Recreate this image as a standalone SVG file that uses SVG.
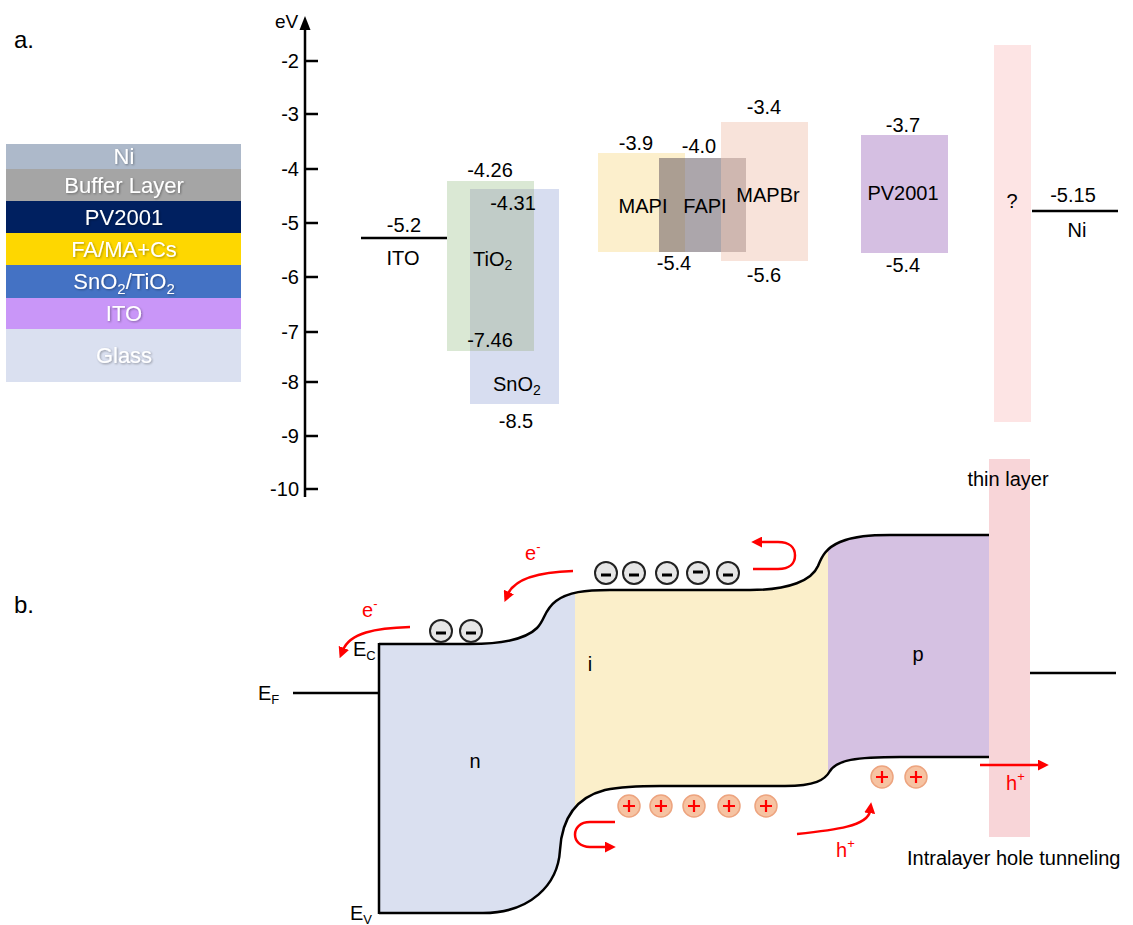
<svg xmlns="http://www.w3.org/2000/svg" width="1133" height="925" viewBox="0 0 1133 925">
<style>
text{font-family:"Liberation Sans",Arial,sans-serif;fill:#000}
.t{font-size:20px;text-anchor:middle}
.tk{font-size:20px;text-anchor:end}
.st{font-size:22px;text-anchor:middle;fill:#fff}
.red{fill:#ff0000;font-size:20px}
.ax{stroke:#000;stroke-width:2.5;fill:none}
.band{stroke:#000;stroke-width:2.5;fill:none}
.ra{stroke:#ff0000;stroke-width:2.5;fill:none;marker-end:url(#ah)}
.mc{fill:#e6e6e6;stroke:#222;stroke-width:2}
.pc{fill:#f6c3a2;stroke:#eda47f;stroke-width:1.5}
.pl{stroke:#ff0000;stroke-width:2.2}
.mi{stroke:#000;stroke-width:3}
</style>
<defs>
<marker id="ah" viewBox="0 0 10 10" refX="2" refY="5" markerWidth="11" markerHeight="11" markerUnits="userSpaceOnUse" orient="auto">
<path d="M0,0 L10,5 L0,10 z" fill="#ff0000"/>
</marker>
<filter id="sh" x="-10%" y="-20%" width="130%" height="150%">
<feDropShadow dx="1" dy="1" stdDeviation="0.8" flood-color="#000" flood-opacity="0.35"/>
</filter>
<clipPath id="bandclip">
<path d="M379,644 H470 C500,644 525,640 537,628 C545,620 544,610 556,601 C568,592 585,590 610,590 H750 C790,590 812,580 818,566 C822,556 826,548 840,542 C855,536 870,535 890,535 H989 L989,757 H900 C855,757 837,760 830,771 C825,780 815,786 785,786 H660 C640,786 620,787 605,790 C578,797 562,815 560,850 C558,885 530,913 483,913 H379 Z"/>
</clipPath>
</defs>
<rect width="1133" height="925" fill="#fff"/>

<text x="14" y="48" style="font-size:24px">a.</text>
<text x="14" y="613" style="font-size:24px">b.</text>

<!-- layer stack -->
<g id="stack">
<rect x="6" y="144" width="235" height="25" fill="#adb9ca"/>
<rect x="6" y="169" width="235" height="32" fill="#a5a5a5"/>
<rect x="6" y="201" width="235" height="32" fill="#002060"/>
<rect x="6" y="233" width="235" height="32" fill="#fed700"/>
<rect x="6" y="265" width="235" height="33" fill="#4472c4"/>
<rect x="6" y="298" width="235" height="31" fill="#c996f8"/>
<rect x="6" y="329" width="235" height="53" fill="#dae0f0"/>
<g filter="url(#sh)">
<text class="st" x="124" y="164">Ni</text>
<text class="st" x="124" y="193">Buffer Layer</text>
<text class="st" x="124" y="225">PV2001</text>
<text class="st" x="124" y="257">FA/MA+Cs</text>
<text class="st" x="124" y="289">SnO<tspan style="font-size:15px" dy="5">2</tspan><tspan dy="-5">/TiO</tspan><tspan style="font-size:15px" dy="5">2</tspan></text>
<text class="st" x="124" y="321">ITO</text>
<text class="st" x="124" y="363">Glass</text>
</g>
</g>

<!-- axis -->
<g id="axis">
<line class="ax" x1="305" y1="28" x2="305" y2="497"/>
<path d="M305,16 L299.5,30 L310.5,30 z" fill="#000"/>
<text x="275" y="28" style="font-size:19px">eV</text>
<g class="ax">
<line x1="305" y1="61" x2="318" y2="61"/>
<line x1="305" y1="114" x2="318" y2="114"/>
<line x1="305" y1="169" x2="318" y2="169"/>
<line x1="305" y1="223" x2="318" y2="223"/>
<line x1="305" y1="277" x2="318" y2="277"/>
<line x1="305" y1="332" x2="318" y2="332"/>
<line x1="305" y1="382" x2="318" y2="382"/>
<line x1="305" y1="436" x2="318" y2="436"/>
<line x1="305" y1="489" x2="318" y2="489"/>
</g>
<text class="tk" x="299" y="68">-2</text>
<text class="tk" x="299" y="121">-3</text>
<text class="tk" x="299" y="176">-4</text>
<text class="tk" x="299" y="230">-5</text>
<text class="tk" x="299" y="284">-6</text>
<text class="tk" x="299" y="339">-7</text>
<text class="tk" x="299" y="389">-8</text>
<text class="tk" x="299" y="443">-9</text>
<text class="tk" x="299" y="496">-10</text>
</g>

<g id="ito">
<line x1="361" y1="238" x2="447" y2="238" stroke="#000" stroke-width="2.5"/>
<text class="t" x="404" y="232">-5.2</text>
<text class="t" x="403" y="265">ITO</text>
</g>

<g id="tio2">
<rect x="447" y="181" width="87" height="170" fill="#dae8d4"/>
</g>
<g id="sno2">
<rect x="470" y="189" width="89" height="215" fill="#d7ddf0"/>
<rect x="470" y="189" width="64" height="162" fill="#c1ccc8"/>
<text class="t" x="490" y="177">-4.26</text>
<text class="t" x="513" y="210">-4.31</text>
<text x="473" y="266" style="font-size:20px">TiO<tspan style="font-size:14px" dy="4">2</tspan></text>
<text class="t" x="490" y="347">-7.46</text>
<text x="493" y="391" style="font-size:20px">SnO<tspan style="font-size:14px" dy="4">2</tspan></text>
<text class="t" x="516" y="428">-8.5</text>
</g>

<g id="mapi">
<rect x="598" y="153" width="87" height="99" fill="#fcefcc"/>
</g>
<g id="fapi">
<rect x="659" y="158" width="87" height="94" fill="#5a4e58" fill-opacity="0.5"/>
</g>
<g id="mapbr">
<rect x="721" y="122" width="87" height="139" fill="#f2c8b6" fill-opacity="0.5"/>
</g>
<g id="labels-perov">
<text class="t" x="636" y="150">-3.9</text>
<text class="t" x="699" y="153">-4.0</text>
<text class="t" x="764" y="114">-3.4</text>
<text class="t" x="643" y="213">MAPI</text>
<text class="t" x="705" y="213">FAPI</text>
<text class="t" x="768" y="202">MAPBr</text>
<text class="t" x="674" y="270">-5.4</text>
<text class="t" x="764" y="282">-5.6</text>
</g>

<g id="pv2001">
<rect x="861" y="135" width="87" height="118" fill="#d5bfe2"/>
<text class="t" x="903" y="132">-3.7</text>
<text class="t" x="903" y="200">PV2001</text>
<text class="t" x="903" y="272">-5.4</text>
</g>

<g id="unknown">
<rect x="994" y="45" width="37" height="377" fill="#fde4e4"/>
<text class="t" x="1012" y="208">?</text>
</g>

<g id="ni">
<line x1="1032" y1="211" x2="1118" y2="211" stroke="#000" stroke-width="2.5"/>
<text class="t" x="1073" y="202">-5.15</text>
<text class="t" x="1077" y="237">Ni</text>
</g>

<!-- band diagram -->
<g id="thin-layer">
<rect x="989" y="459" width="41" height="378" fill="#f8d5d8"/>
<text class="t" x="1008" y="486">thin layer</text>
</g>

<g id="band-regions" clip-path="url(#bandclip)">
<rect x="379" y="530" width="197" height="390" fill="#dae0f0"/>
<rect x="575" y="530" width="254" height="390" fill="#fbefca"/>
<rect x="828" y="530" width="162" height="390" fill="#d5c1e2"/>
</g>

<g id="band-lines">
<path class="band" d="M379,644 H470 C500,644 525,640 537,628 C545,620 544,610 556,601 C568,592 585,590 610,590 H750 C790,590 812,580 818,566 C822,556 826,548 840,542 C855,536 870,535 890,535 H989"/>
<path class="band" d="M379,913 H483 C530,913 558,885 560,850 C562,815 578,797 605,790 C620,787 640,786 660,786 H785 C815,786 825,780 830,771 C837,760 855,757 900,757 H989"/>
<line class="band" x1="379" y1="643" x2="379" y2="914"/>
<line class="band" x1="293" y1="693" x2="379" y2="693"/>
<line class="band" x1="1030" y1="673" x2="1116" y2="673"/>
</g>

<g id="band-labels">
<text x="353" y="656" style="font-size:20px">E<tspan style="font-size:13px" dy="4">C</tspan></text>
<text x="258" y="700" style="font-size:20px">E<tspan style="font-size:13px" dy="4">F</tspan></text>
<text x="350" y="920" style="font-size:20px">E<tspan style="font-size:13px" dy="4">V</tspan></text>
<text class="t" x="475" y="768">n</text>
<text class="t" x="590" y="671">i</text>
<text class="t" x="918" y="661">p</text>
<text x="907" y="865" style="font-size:20px">Intralayer hole tunneling</text>
</g>

<g id="electrons">
<g>
<circle class="mc" cx="441" cy="631" r="11"/><line class="mi" x1="436" y1="633" x2="446" y2="633"/>
<circle class="mc" cx="471" cy="631" r="11"/><line class="mi" x1="466" y1="633" x2="476" y2="633"/>
</g>
<g>
<circle class="mc" cx="606" cy="573" r="11"/><line class="mi" x1="601" y1="575" x2="611" y2="575"/>
<circle class="mc" cx="634" cy="573" r="11"/><line class="mi" x1="629" y1="575" x2="639" y2="575"/>
<circle class="mc" cx="667" cy="573" r="11"/><line class="mi" x1="662" y1="575" x2="672" y2="575"/>
<circle class="mc" cx="698" cy="573" r="11"/><line class="mi" x1="693" y1="572" x2="703" y2="572"/>
<circle class="mc" cx="728" cy="573" r="11"/><line class="mi" x1="723" y1="575" x2="733" y2="575"/>
</g>
</g>

<g id="holes">
<g>
<circle class="pc" cx="629" cy="806" r="11"/><path class="pl" d="M623,806 H635 M629,800 V812"/>
<circle class="pc" cx="661" cy="806" r="11"/><path class="pl" d="M655,806 H667 M661,800 V812"/>
<circle class="pc" cx="694" cy="806" r="11"/><path class="pl" d="M688,806 H700 M694,800 V812"/>
<circle class="pc" cx="729" cy="806" r="11"/><path class="pl" d="M723,806 H735 M729,800 V812"/>
<circle class="pc" cx="766" cy="806" r="11"/><path class="pl" d="M760,806 H772 M766,800 V812"/>
</g>
<g>
<circle class="pc" cx="882" cy="777" r="11"/><path class="pl" d="M876,777 H888 M882,771 V783"/>
<circle class="pc" cx="916" cy="777" r="11"/><path class="pl" d="M910,777 H922 M916,771 V783"/>
</g>
</g>

<g id="connectors">
<path class="ra" d="M410,627 C375,628 350,633 343,650"/>
<path class="ra" d="M573,571 C540,572 515,578 508,594"/>
<path class="ra" d="M753,569 H778 C790,569 795,563 795,555.5 C795,548 790,542 778,542 H760"/>
<path class="ra" d="M615,822 H590 C580,822 575,828 575,834.5 C575,841 580,847 590,847 H607"/>
<path class="ra" d="M797,834 C835,830 868,826 870,811"/>
<path class="ra" d="M980,765 H1040"/>
</g>

<g id="carrier-labels">
<text class="red" x="362" y="617">e<tspan style="font-size:13px" dy="-9">-</tspan></text>
<text class="red" x="525" y="560">e<tspan style="font-size:13px" dy="-9">-</tspan></text>
<text class="red" x="836" y="857">h<tspan style="font-size:13px" dy="-9">+</tspan></text>
<text class="red" x="1006" y="790">h<tspan style="font-size:13px" dy="-9">+</tspan></text>
</g>
</svg>
